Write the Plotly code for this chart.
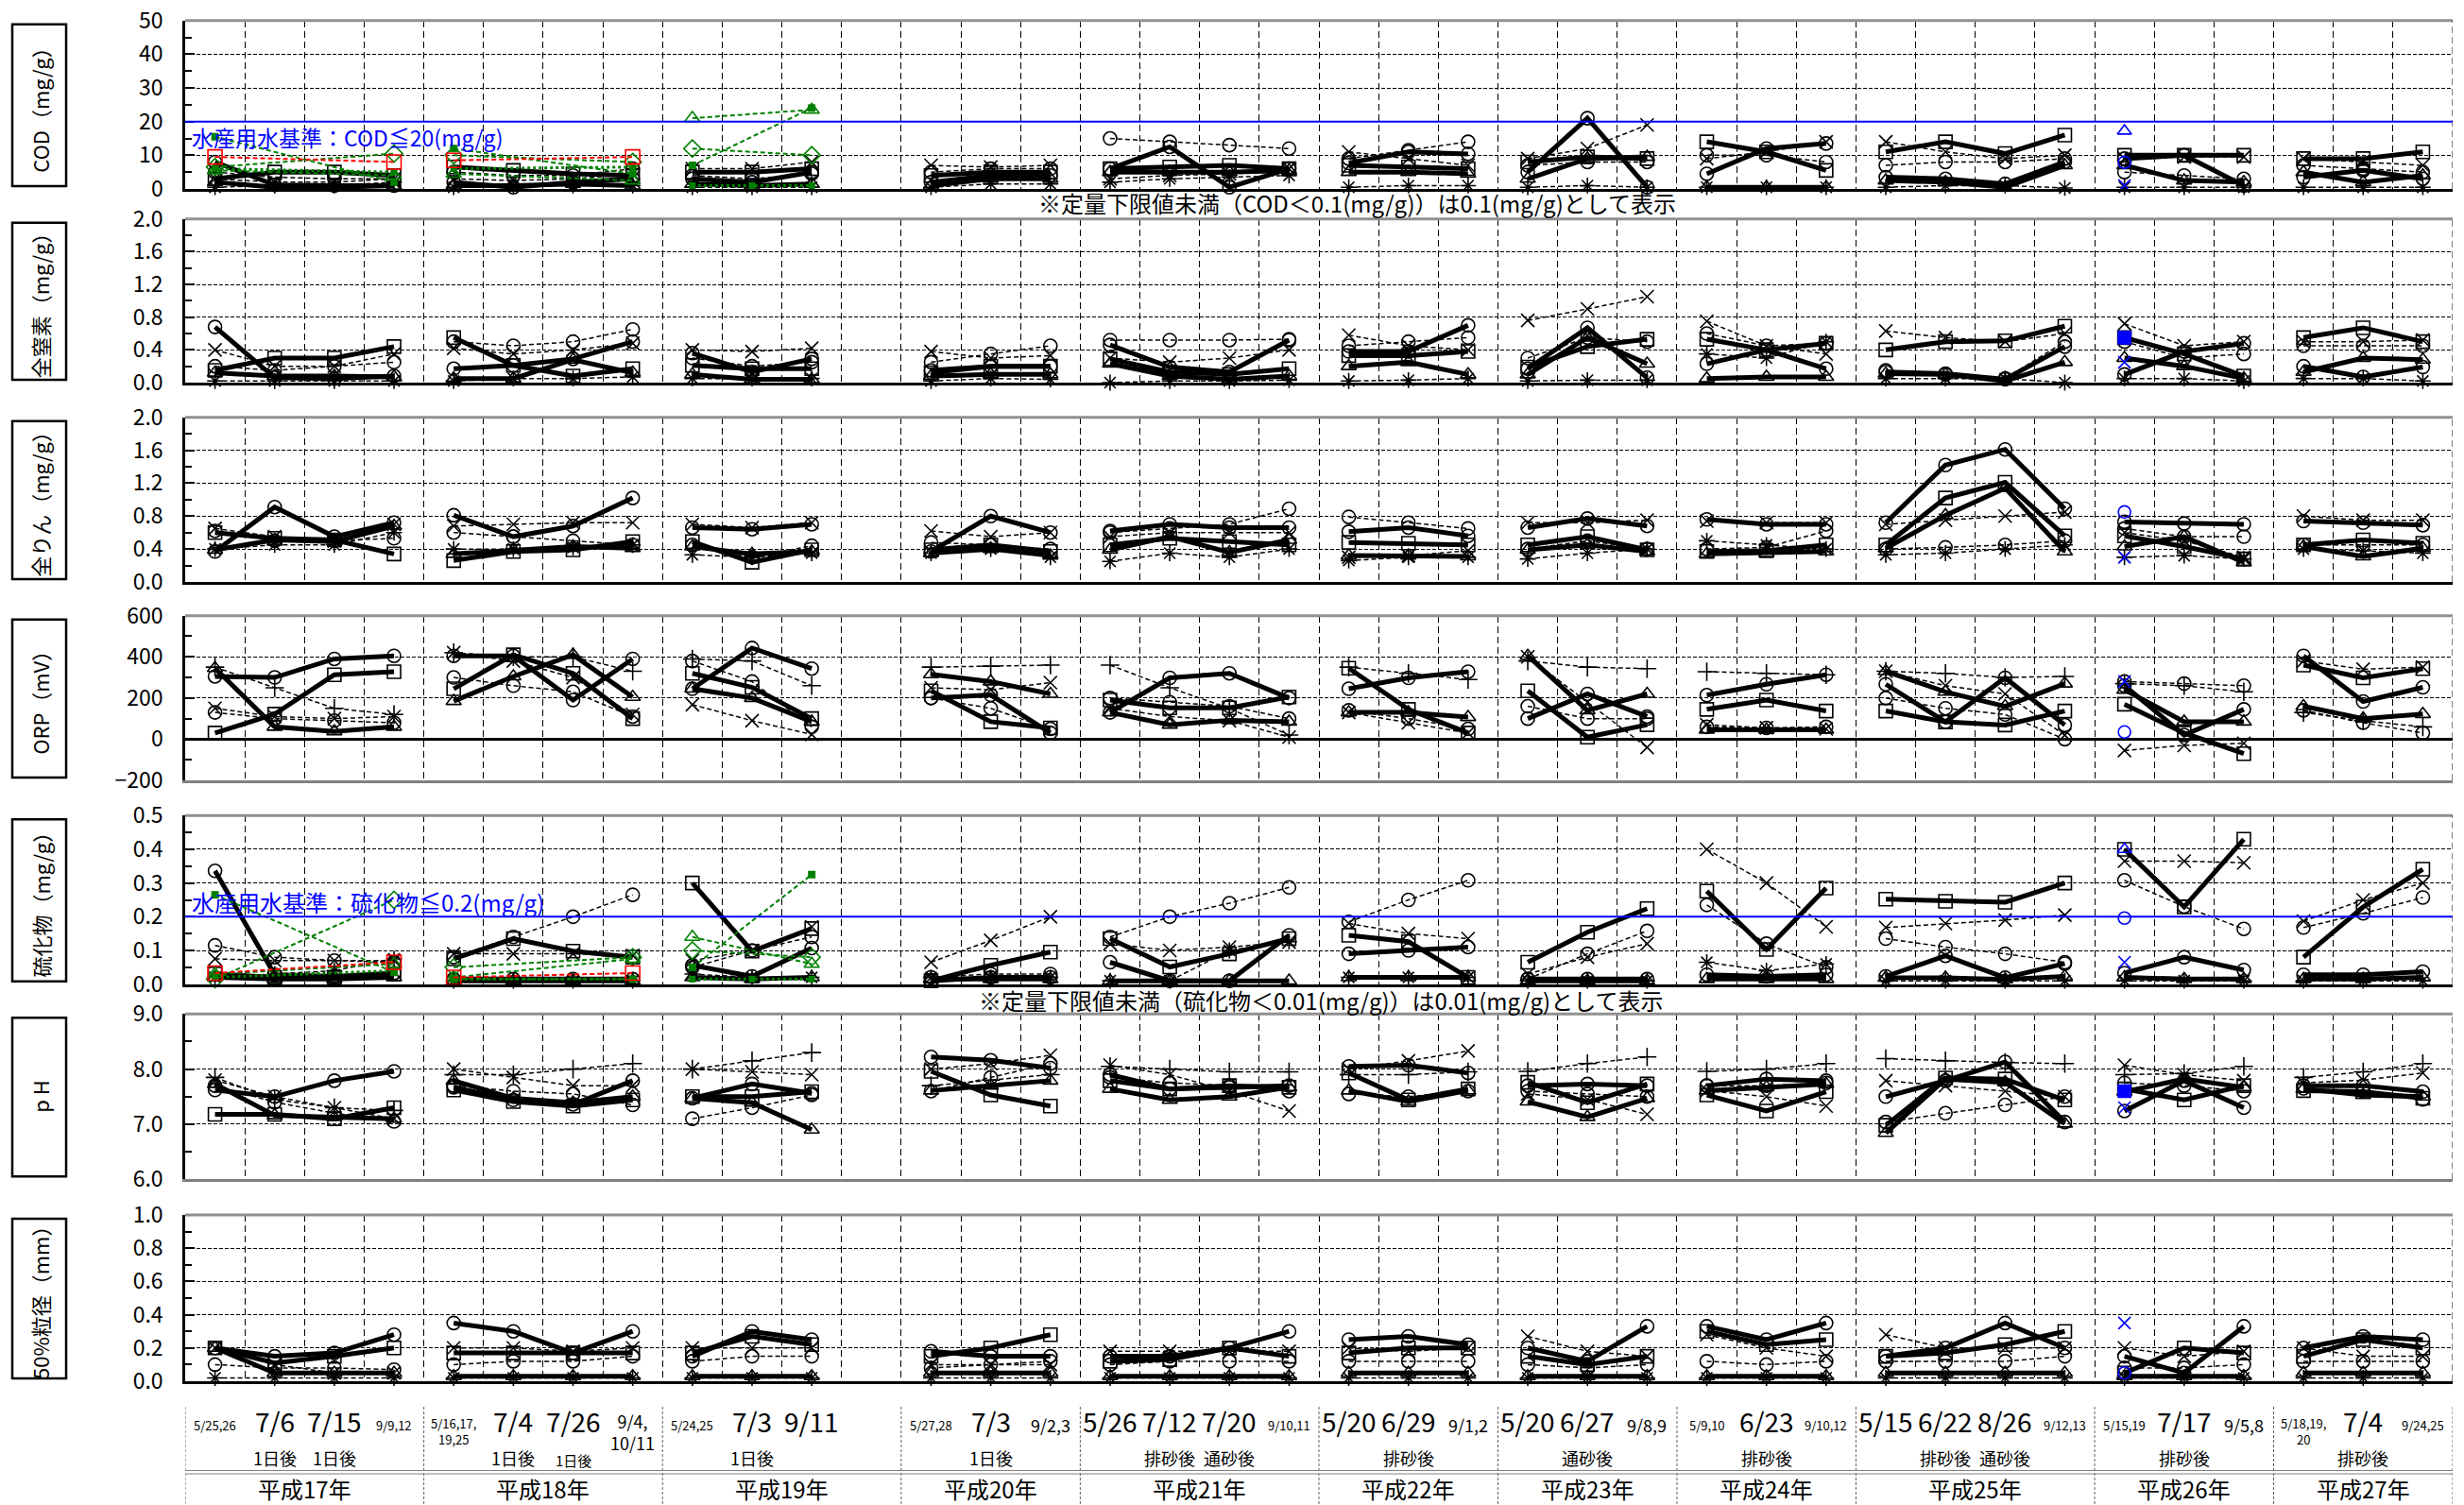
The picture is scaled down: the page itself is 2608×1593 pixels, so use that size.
import plotly.graph_objects as go

W, H = 2608, 1593
PLOT_L, PLOT_R = 196, 2596
N_CELLS = 38

FONT = "Liberation Sans Narrow, Noto Sans CJK JP, sans-serif"

# ---- survey calendar -------------------------------------------------------
YEAR_LABELS = ["平成17年", "平成18年", "平成19年", "平成20年", "平成21年", "平成22年",
               "平成23年", "平成24年", "平成25年", "平成26年", "平成27年"]
YEAR_CELLS = [4, 4, 4, 3, 4, 3, 3, 3, 4, 3, 3]

DATE_LABELS = [
    ["5/25,26", "7/6", "7/15", "9/9,12"],
    ["5/16,17,<br>19,25", "7/4", "7/26", "9/4,<br>10/11"],
    ["5/24,25", "7/3", "9/11"],
    ["5/27,28", "7/3", "9/2,3"],
    ["5/26", "7/12", "7/20", "9/10,11"],
    ["5/20", "6/29", "9/1,2"],
    ["5/20", "6/27", "9/8,9"],
    ["5/9,10", "6/23", "9/10,12"],
    ["5/15", "6/22", "8/26", "9/12,13"],
    ["5/15,19", "7/17", "9/5,8"],
    ["5/18,19,<br>20", "7/4", "9/24,25"],
]
DATE_SIZES = [
    ["S", "L", "L", "S"],
    ["S", "L", "L", "M"],
    ["S", "L", "L"],
    ["S", "L", "M"],
    ["L", "L", "L", "S"],
    ["L", "L", "M"],
    ["L", "L", "M"],
    ["S", "L", "S"],
    ["L", "L", "L", "S"],
    ["S", "L", "M"],
    ["S", "L", "S"],
]
SUB_LABELS = [
    ["", "1日後", "1日後", ""],
    ["", "1日後", "1日後", ""],
    ["", "1日後", ""],
    ["", "1日後", ""],
    ["", "排砂後", "通砂後", ""],
    ["", "排砂後", ""],
    ["", "通砂後", ""],
    ["", "排砂後", ""],
    ["", "排砂後", "通砂後", ""],
    ["", "排砂後", ""],
    ["", "排砂後", ""],
]

# ---- COD (mg/g) ------------------------------------------------------------
COD_B1 = [[8.0, 1.2, 1.0, 1.0], [2.0, 0.5, 2.0, 3.0], [3.0, 2.0, 5.0], [2.0, 4.0, 4.0],
          [6.0, 12.5, 0.5, 6.0], [7.7, 11.0, 10.4], [5.0, 21.0, 0.5], [4.5, 12.0, 13.5],
          [3.5, 3.0, 1.5, 8.0], [9.0, 10.0, 1.0], [3.5, 5.5, 3.0]]
COD_B2 = [[3.0, 5.0, 5.0, 4.0], [6.5, 5.5, 4.5, 4.0], [5.0, 5.0, 6.0], [4.0, 5.0, 5.0],
          [6.0, 6.5, 7.0, 6.0], [7.0, 6.5, 6.0], [8.0, 9.5, 9.0], [14.0, 11.0, 5.5],
          [11.0, 14.0, 10.5, 16.0], [10.0, 10.0, 10.0], [9.0, 9.0, 11.0]]
COD_B3 = [[2.0, 0.5, 0.5, 1.0], [1.0, 1.0, 1.5, 1.0], [1.5, 1.0, 1.5], [1.0, 3.0, 3.0],
          [5.0, 5.0, 5.0, 5.5], [5.0, 5.0, 4.5], [3.0, 9.0, 9.5], [0.5, 0.5, 0.5],
          [2.5, 2.0, 0.5, 7.0], [7.0, 2.5, 2.0], [5.0, 2.0, 4.0]]
COD_D1 = [[3.0, 2.0, 2.0, 3.0], [3.0, 2.5, 3.0, 4.5], [6.0, 6.0, 8.0], [7.0, 6.5, 7.0],
          [3.0, 4.0, 4.5, 6.0], [11.0, 9.0, 7.0], [9.0, 12.0, 19.0], [9.0, 11.0, 14.0],
          [14.0, 11.0, 9.0, 10.0], [9.0, 9.5, 9.5], [9.0, 8.0, 7.0]]
COD_D2 = [[5.0, 3.5, 3.0, 3.0], [5.0, 4.0, 4.0, 6.0], [4.0, 3.0, 4.5], [5.0, 6.0, 6.0],
          [15.0, 14.0, 13.0, 12.0], [9.0, 11.5, 14.0], [7.0, 8.0, 8.0], [10.0, 10.0, 8.0],
          [7.0, 8.0, 8.0, 9.0], [5.0, 4.0, 3.0], [7.0, 6.0, 5.0]]
COD_D3 = [[0.5, 1.0, 1.0, 2.0], [0.5, 1.0, 1.0, 1.0], [0.5, 0.5, 0.5], [0.5, 1.5, 1.5],
          [2.0, 3.0, 3.5, 4.0], [0.5, 1.0, 1.0], [0.5, 1.0, 0.5], [0.5, 0.5, 0.5],
          [0.5, 1.0, 1.0, 0.3], [0.5, 0.5, 0.5], [0.5, 0.5, 0.5]]
COD_GREEN_SQ = [[15.5, None, None, 2.0], [12.0, None, None, 4.5], [7.0, None, 24.0]]
COD_GREEN_DIA = [[6.5, None, None, 10.5], [10.0, None, None, 8.0], [12.0, None, 10.0]]
COD_GREEN_TRI = [[5.5, None, None, 4.0], [4.5, None, None, 2.5], [21.0, None, 23.5]]
COD_GREEN_LOW = [[6.0, None, None, 5.0], [6.0, None, None, 6.5], [1.0, 1.0, 1.0]]
COD_RED = [[9.5, None, None, 8.0], [8.5, None, None, 9.5]]
COD_BLUE = [17.2, 7.9, None, 1.0]

# ---- 全窒素 (mg/g) -----------------------------------------------------------
TN_B1 = [[0.68, 0.06, 0.05, 0.08], [0.17, 0.21, 0.29, 0.50], [0.36, 0.13, 0.29], [0.15, 0.20, 0.20],
         [0.46, 0.19, 0.13, 0.52], [0.38, 0.38, 0.70], [0.17, 0.67, 0.06], [0.23, 0.40, 0.17],
         [0.13, 0.11, 0.04, 0.44], [0.10, 0.38, 0.48], [0.20, 0.07, 0.19]]
TN_B2 = [[0.15, 0.30, 0.30, 0.44], [0.55, 0.21, 0.08, 0.17], [0.21, 0.17, 0.17], [0.12, 0.20, 0.20],
         [0.29, 0.13, 0.10, 0.17], [0.33, 0.33, 0.38], [0.19, 0.44, 0.53], [0.53, 0.40, 0.48],
         [0.40, 0.50, 0.51, 0.69], [0.55, 0.35, 0.08], [0.55, 0.67, 0.50]]
TN_B3 = [[0.12, 0.08, 0.08, 0.07], [0.05, 0.05, 0.28, 0.12], [0.10, 0.04, 0.04], [0.08, 0.10, 0.10],
         [0.23, 0.08, 0.04, 0.08], [0.20, 0.25, 0.10], [0.10, 0.55, 0.23], [0.05, 0.07, 0.07],
         [0.11, 0.10, 0.02, 0.25], [0.30, 0.20, 0.05], [0.13, 0.30, 0.28]]
TN_D1 = [[0.40, 0.20, 0.20, 0.35], [0.42, 0.35, 0.40, 0.48], [0.40, 0.38, 0.42], [0.38, 0.30, 0.33],
         [0.30, 0.25, 0.30, 0.40], [0.58, 0.45, 0.40], [0.76, 0.90, 1.05], [0.75, 0.45, 0.35],
         [0.63, 0.55, 0.50, 0.60], [0.72, 0.45, 0.50], [0.50, 0.50, 0.52]]
TN_D2 = [[0.20, 0.15, 0.20, 0.25], [0.50, 0.45, 0.50, 0.65], [0.30, 0.20, 0.25], [0.25, 0.35, 0.45],
         [0.52, 0.52, 0.52, 0.53], [0.45, 0.50, 0.55], [0.30, 0.55, 0.50], [0.60, 0.45, 0.48],
         [0.15, 0.10, 0.05, 0.50], [0.50, 0.30, 0.35], [0.45, 0.45, 0.45]]
TN_D3 = [[0.02, 0.02, 0.02, 0.02], [0.02, 0.05, 0.05, 0.07], [0.05, 0.05, 0.05], [0.02, 0.05, 0.04],
         [0.00, 0.02, 0.02, 0.03], [0.02, 0.03, 0.05], [0.02, 0.03, 0.03], [0.35, 0.30, 0.50],
         [0.05, 0.05, 0.05, 0.00], [0.05, 0.05, 0.02], [0.05, 0.05, 0.02]]
TN_BLUE = [None, None, 0.55, 0.25]

# ---- 全りん (mg/g) -----------------------------------------------------------
TP_B1 = [[0.37, 0.91, 0.55, 0.72], [0.81, 0.55, 0.68, 1.02], [0.66, 0.64, 0.70], [0.37, 0.80, 0.60],
         [0.62, 0.70, 0.66, 0.66], [0.61, 0.66, 0.56], [0.66, 0.77, 0.68], [0.76, 0.70, 0.70],
         [0.72, 1.42, 1.61, 0.89], [0.73, 0.71, 0.70], [0.74, 0.72, 0.69]]
TP_B2 = [[0.60, 0.53, 0.51, 0.34], [0.26, 0.37, 0.39, 0.49], [0.49, 0.24, 0.39], [0.39, 0.45, 0.37],
         [0.45, 0.53, 0.49, 0.45], [0.48, 0.47, 0.45], [0.45, 0.55, 0.39], [0.37, 0.38, 0.45],
         [0.45, 1.02, 1.21, 0.56], [0.56, 0.43, 0.28], [0.45, 0.51, 0.47]]
TP_B3 = [[0.39, 0.51, 0.49, 0.68], [0.34, 0.39, 0.43, 0.41], [0.43, 0.34, 0.37], [0.35, 0.40, 0.32],
         [0.39, 0.55, 0.36, 0.51], [0.32, 0.32, 0.31], [0.39, 0.45, 0.37], [0.34, 0.35, 0.37],
         [0.41, 0.81, 1.14, 0.37], [0.43, 0.55, 0.24], [0.43, 0.31, 0.41]]
TP_D1 = [[0.65, 0.55, 0.50, 0.70], [0.68, 0.70, 0.72, 0.72], [0.70, 0.66, 0.72], [0.62, 0.55, 0.60],
         [0.55, 0.60, 0.60, 0.60], [0.30, 0.32, 0.38], [0.72, 0.72, 0.75], [0.74, 0.72, 0.72],
         [0.70, 0.75, 0.80, 0.85], [0.60, 0.50, 0.30], [0.80, 0.75, 0.75]]
TP_D2 = [[0.62, 0.50, 0.50, 0.53], [0.60, 0.55, 0.50, 0.45], [0.45, 0.30, 0.44], [0.48, 0.45, 0.40],
         [0.60, 0.65, 0.70, 0.89], [0.79, 0.72, 0.65], [0.40, 0.50, 0.40], [0.40, 0.42, 0.62],
         [0.40, 0.42, 0.45, 0.50], [0.65, 0.55, 0.55], [0.45, 0.45, 0.45]]
TP_D3 = [[0.40, 0.45, 0.45, 0.60], [0.40, 0.40, 0.42, 0.45], [0.33, 0.30, 0.35], [0.35, 0.40, 0.30],
         [0.25, 0.35, 0.30, 0.40], [0.26, 0.30, 0.30], [0.28, 0.35, 0.40], [0.50, 0.45, 0.40],
         [0.33, 0.35, 0.40, 0.45], [0.30, 0.32, 0.28], [0.40, 0.38, 0.35]]
TP_BLUE = [None, 0.85, None, 0.30]

# ---- ORP (mV) --------------------------------------------------------------
ORP_B1 = [[305, 300, 390, 405], [405, 405, 190, 390], [245, 443, 343], [200, 215, 30],
          [130, 298, 320, 200], [245, 298, 328], [100, 220, 110], [214, 267, 313],
          [267, 84, 298, 69], [260, 20, 145], [405, 183, 252]]
ORP_B2 = [[30, 122, 313, 328], [245, 410, 320, 100], [320, 252, 100], [235, 85, 55],
          [190, 152, 152, 205], [345, 145, 30], [235, 10, 70], [145, 190, 137],
          [137, 84, 69, 137], [170, 30, -70], [360, 298, 343]]
ORP_B3 = [[345, 60, 38, 60], [185, 305, 410, 205], [245, 200, 85], [315, 280, 220],
          [130, 70, 92, 85], [130, 130, 107], [405, 140, 220], [46, 46, 46],
          [330, 230, 160, 270], [240, 85, 85], [160, 100, 122]]
ORP_D1 = [[150, 110, 100, 110], [420, 380, 300, 120], [168, 90, 23], [250, 240, 275],
          [150, 110, 90, 10], [130, 80, 30], [400, 180, -40], [70, 55, 50],
          [330, 260, 220, 20], [-55, -30, -20], [380, 340, 350]]
ORP_D2 = [[130, 100, 90, 80], [300, 260, 230, 110], [380, 280, 60], [200, 150, 50],
          [200, 180, 160, 100], [140, 100, 50], [160, 100, 100], [60, 55, 60],
          [200, 150, 120, 0], [280, 270, 260], [140, 80, 30]]
ORP_D3 = [[350, 250, 150, 120], [420, 400, 400, 330], [390, 380, 260], [350, 355, 360],
          [360, 250, 150, 20], [350, 320, 290], [380, 350, 343], [328, 320, 313],
          [330, 320, 300, 305], [270, 260, 230], [130, 90, 60]]
ORP_BLUE = [None, 35, None, 280]

# ---- 硫化物 (mg/g) -----------------------------------------------------------
S_B1 = [[0.336, 0.028, 0.023, 0.033], [0.015, 0.015, 0.015, 0.015], [0.056, 0.023, 0.107],
        [0.010, 0.020, 0.020], [0.065, 0.010, 0.010, 0.145], [0.090, 0.100, 0.110],
        [0.015, 0.015, 0.015], [0.028, 0.023, 0.028], [0.023, 0.084, 0.019, 0.061],
        [0.033, 0.080, 0.042], [0.028, 0.028, 0.037]]
S_B2 = [[0.030, 0.020, 0.020, 0.030], [0.075, 0.135, 0.098, 0.080], [0.300, 0.098, 0.165],
        [0.010, 0.056, 0.095], [0.135, 0.051, 0.090, 0.135], [0.145, 0.126, 0.020],
        [0.065, 0.154, 0.224], [0.276, 0.103, 0.285], [0.252, 0.246, 0.243, 0.300],
        [0.400, 0.229, 0.430], [0.080, 0.229, 0.341]]
S_B3 = [[0.020, 0.015, 0.015, 0.020], [0.010, 0.010, 0.010, 0.010], [0.020, 0.015, 0.020],
        [0.015, 0.015, 0.015], [0.010, 0.010, 0.010, 0.010], [0.020, 0.020, 0.020],
        [0.010, 0.010, 0.010], [0.015, 0.015, 0.015], [0.019, 0.019, 0.014, 0.023],
        [0.020, 0.015, 0.015], [0.015, 0.015, 0.020]]
S_D1 = [[0.075, 0.070, 0.070, 0.070], [0.090, 0.090, 0.090, 0.085], [0.070, 0.100, 0.170],
        [0.065, 0.130, 0.200], [0.120, 0.100, 0.110, 0.125], [0.180, 0.150, 0.135],
        [0.030, 0.080, 0.120], [0.400, 0.300, 0.170], [0.168, 0.180, 0.190, 0.205],
        [0.365, 0.365, 0.360], [0.187, 0.250, 0.300]]
S_D2 = [[0.115, 0.080, 0.070, 0.065], [0.080, 0.140, 0.200, 0.265], [0.050, 0.100, 0.140],
        [0.020, 0.030, 0.030], [0.140, 0.200, 0.240, 0.287], [0.185, 0.250, 0.308],
        [0.015, 0.090, 0.158], [0.235, 0.120, 0.050], [0.135, 0.110, 0.090, 0.065],
        [0.308, 0.230, 0.164], [0.168, 0.210, 0.257]]
S_D3 = [[0.020, 0.030, 0.040, 0.075], [0.010, 0.010, 0.010, 0.010], [0.030, 0.020, 0.020],
        [0.020, 0.020, 0.020], [0.010, 0.010, 0.100, 0.126], [0.020, 0.020, 0.020],
        [0.010, 0.010, 0.010], [0.065, 0.040, 0.060], [0.010, 0.010, 0.010, 0.010],
        [0.010, 0.010, 0.010], [0.010, 0.010, 0.010]]
S_GREEN_SQ = [[0.265, None, None, 0.035], [0.015, None, None, 0.015], [0.050, None, 0.325]]
S_GREEN_DIA = [[0.015, None, None, 0.250], [0.050, None, None, 0.080], [0.100, None, 0.080]]
S_GREEN_TRI = [[0.030, None, None, 0.060], [0.020, None, None, 0.075], [0.140, None, 0.060]]
S_GREEN_LOW = [[0.020, None, None, 0.040], [0.015, None, None, 0.015], [0.015, 0.015, 0.015]]
S_RED = [[0.033, None, None, 0.065], [0.020, None, None, 0.033]]
S_BLUE = [0.40, 0.196, None, 0.065]

# ---- pH --------------------------------------------------------------------
PH_B1 = [[7.62, 7.50, 7.79, 7.96], [7.67, 7.44, 7.36, 7.79], [7.47, 7.73, 7.56], [8.22, 8.16, 8.02],
         [7.90, 7.64, 7.67, 7.70], [8.05, 8.07, 7.93], [7.70, 7.73, 7.70], [7.70, 7.82, 7.79],
         [7.50, 7.79, 8.13, 7.04], [7.24, 7.79, 7.30], [7.70, 7.70, 7.59]]
PH_B2 = [[7.18, 7.18, 7.10, 7.30], [7.62, 7.41, 7.33, 7.44], [7.50, 7.50, 7.59], [7.96, 7.53, 7.33],
         [7.79, 7.64, 7.70, 7.67], [7.93, 7.44, 7.64], [7.76, 7.39, 7.73], [7.53, 7.24, 7.59],
         [6.98, 7.84, 7.82, 7.44], [7.64, 7.44, 7.70], [7.61, 7.59, 7.47]]
PH_B3 = [[7.73, 7.16, 7.13, 7.10], [7.79, 7.47, 7.39, 7.50], [7.47, 7.39, 6.90], [7.61, 7.70, 7.79],
         [7.64, 7.44, 7.50, 7.67], [7.61, 7.41, 7.61], [7.41, 7.13, 7.47], [7.61, 7.67, 7.73],
         [6.84, 7.82, 7.76, 7.01], [7.59, 7.82, 7.67], [7.64, 7.53, 7.50]]
PH_D1 = [[7.80, 7.50, 7.30, 7.10], [8.00, 7.85, 7.70, 7.70], [8.00, 7.95, 7.90], [8.00, 8.10, 8.25],
         [8.07, 7.90, 7.60, 7.24], [8.00, 8.15, 8.33], [7.55, 7.45, 7.18], [7.61, 7.50, 7.33],
         [7.79, 7.70, 7.60, 7.50], [8.07, 7.90, 7.79], [7.75, 7.80, 7.93]]
PH_D2 = [[7.70, 7.40, 7.20, 7.05], [7.70, 7.60, 7.55, 7.35], [7.10, 7.30, 7.53], [7.60, 7.85, 8.10],
         [7.85, 7.75, 7.70, 7.60], [7.55, 7.50, 7.60], [7.60, 7.55, 7.50], [7.70, 7.70, 7.75],
         [7.04, 7.20, 7.35, 7.50], [7.75, 7.70, 7.60], [7.65, 7.60, 7.45]]
PH_D3 = [[7.85, 7.45, 7.30, 7.25], [7.90, 7.90, 8.00, 8.10], [8.00, 8.15, 8.30], [7.70, 7.80, 7.90],
         [8.05, 8.00, 7.95, 7.95], [7.90, 7.90, 7.95], [7.96, 8.10, 8.22], [7.96, 8.00, 8.10],
         [8.19, 8.15, 8.12, 8.10], [7.90, 7.92, 8.05], [7.85, 7.95, 8.10]]
PH_BLUE = [None, None, 7.60, 7.30]

# ---- 50%粒径 (mm) ------------------------------------------------------------
D50_B1 = [[0.20, 0.15, 0.17, 0.28], [0.35, 0.30, 0.17, 0.30], [0.15, 0.30, 0.25], [0.18, 0.15, 0.15],
          [0.15, 0.15, 0.20, 0.30], [0.25, 0.27, 0.22], [0.20, 0.12, 0.33], [0.33, 0.25, 0.35],
          [0.15, 0.20, 0.35, 0.20], [0.15, 0.05, 0.33], [0.20, 0.27, 0.25]]
D50_B2 = [[0.20, 0.11, 0.15, 0.20], [0.17, 0.17, 0.17, 0.17], [0.17, 0.27, 0.22], [0.15, 0.20, 0.28],
          [0.12, 0.13, 0.20, 0.15], [0.17, 0.20, 0.20], [0.15, 0.10, 0.15], [0.30, 0.22, 0.25],
          [0.15, 0.17, 0.22, 0.30], [0.05, 0.20, 0.17], [0.15, 0.25, 0.20]]
D50_B3 = [[0.20, 0.05, 0.05, 0.05], [0.03, 0.03, 0.03, 0.03], [0.03, 0.03, 0.03], [0.05, 0.05, 0.05],
          [0.03, 0.03, 0.03, 0.03], [0.05, 0.05, 0.05], [0.03, 0.03, 0.03], [0.03, 0.03, 0.03],
          [0.05, 0.05, 0.05, 0.05], [0.03, 0.03, 0.03], [0.05, 0.05, 0.05]]
D50_D1 = [[0.20, 0.10, 0.05, 0.05], [0.20, 0.20, 0.18, 0.20], [0.20, 0.20, 0.20], [0.10, 0.10, 0.10],
          [0.18, 0.18, 0.18, 0.18], [0.20, 0.18, 0.20], [0.27, 0.18, 0.15], [0.28, 0.20, 0.15],
          [0.28, 0.20, 0.20, 0.20], [0.20, 0.15, 0.18], [0.20, 0.15, 0.15]]
D50_D2 = [[0.10, 0.08, 0.08, 0.07], [0.10, 0.12, 0.12, 0.15], [0.12, 0.15, 0.15], [0.08, 0.10, 0.12],
          [0.10, 0.12, 0.12, 0.12], [0.12, 0.12, 0.12], [0.10, 0.08, 0.10], [0.12, 0.10, 0.12],
          [0.12, 0.12, 0.12, 0.15], [0.08, 0.08, 0.10], [0.12, 0.12, 0.12]]
D50_D3 = [[0.02, 0.02, 0.02, 0.02], [0.02, 0.02, 0.02, 0.02], [0.02, 0.02, 0.02], [0.02, 0.02, 0.02],
          [0.02, 0.02, 0.02, 0.02], [0.02, 0.02, 0.02], [0.02, 0.02, 0.02], [0.02, 0.02, 0.02],
          [0.02, 0.02, 0.02, 0.02], [0.02, 0.02, 0.02], [0.02, 0.02, 0.02]]
D50_BLUE = [None, 0.05, None, 0.35]

# ---- panel definitions -----------------------------------------------------
PANEL_TITLES = ["COD（mg/g）", "全窒素（mg/g）", "全りん（mg/g）", "ORP（mV）",
                "硫化物（mg/g）", "p H", "50%粒径（mm）"]
PANEL_RANGES = [(0, 50), (0, 2.0), (0, 2.0), (-200, 600), (0, 0.5), (6.0, 9.0), (0, 1.0)]
PANEL_DTICK = [10, 0.4, 0.4, 200, 0.1, 1.0, 0.2]
PANEL_MINOR = [5, 0.2, 0.2, 100, 0.05, 0.5, 0.1]
PANEL_FORMAT = ["d", ".1f", ".1f", "d", ".1f", ".1f", ".1f"]
PANEL_TOP_PX = [21.7, 231.7, 441.7, 651.7, 863.3, 1073.3, 1286.0]
PANEL_BOT_PX = [200.0, 405.0, 616.0, 826.0, 1041.7, 1248.3, 1462.0]

panels = [
    (COD_B1, COD_B2, COD_B3, COD_D1, COD_D2, COD_D3, "asterisk-open", COD_BLUE),
    (TN_B1, TN_B2, TN_B3, TN_D1, TN_D2, TN_D3, "asterisk-open", TN_BLUE),
    (TP_B1, TP_B2, TP_B3, TP_D1, TP_D2, TP_D3, "asterisk-open", TP_BLUE),
    (ORP_B1, ORP_B2, ORP_B3, ORP_D1, ORP_D2, ORP_D3, "cross-thin-open", ORP_BLUE),
    (S_B1, S_B2, S_B3, S_D1, S_D2, S_D3, "asterisk-open", S_BLUE),
    (PH_B1, PH_B2, PH_B3, PH_D1, PH_D2, PH_D3, "cross-thin-open", PH_BLUE),
    (D50_B1, D50_B2, D50_B3, D50_D1, D50_D2, D50_D3, "asterisk-open", D50_BLUE),
]

BOLD_SYMBOLS = ["circle-open", "square-open", "triangle-up-open"]
BLUE_SYMBOLS = ["triangle-up-open", "circle-open", "square", "x-thin-open"]

# cell where each year group starts
YEAR_START = []
_s = 0
for n in YEAR_CELLS:
    YEAR_START.append(_s)
    _s += n


def year_xy(groups):
    """Flatten per-year values into x/y with a break between year groups."""
    xs, ys = [], []
    for yi, vals in enumerate(groups):
        for j, v in enumerate(vals):
            if v is not None:
                xs.append(YEAR_START[yi] + j + 0.5)
                ys.append(v)
        xs.append(None)
        ys.append(None)
    return xs, ys


def px_to_paper_y(py):
    return 1 - py / H


def px_to_paper_x(px):
    return (px - PLOT_L) / (PLOT_R - PLOT_L)


fig = go.Figure()


def add_series(i, groups, symbol, color, width, dash, msize=14, filled=False):
    xs, ys = year_xy(groups)
    ax = "" if i == 0 else str(i + 1)
    fig.add_trace(go.Scatter(
        x=xs, y=ys, xaxis="x" + ax, yaxis="y" + ax, mode="lines+markers",
        line=dict(color=color, width=width, dash=dash),
        marker=dict(symbol=symbol, size=msize, color=color,
                    line=dict(color=color, width=1.6 if not filled else 0)),
        showlegend=False, hoverinfo="skip", cliponaxis=False))


DASH = "5px,3px"
for i, (b1, b2, b3, d1, d2, d3, d3sym, blue) in enumerate(panels):
    add_series(i, d1, "x-thin-open", "black", 1.5, DASH)
    add_series(i, d2, "circle-open", "black", 1.5, DASH)
    add_series(i, d3, d3sym, "black", 1.5, DASH)
    for grp, sym in zip((b1, b2, b3), BOLD_SYMBOLS):
        add_series(i, grp, sym, "black", 5, "solid")
    # first-survey markers of 平成26年
    ax = "" if i == 0 else str(i + 1)
    x26 = YEAR_START[9] + 0.5
    for v, sym in zip(blue, BLUE_SYMBOLS):
        if v is None:
            continue
        fig.add_trace(go.Scatter(
            x=[x26], y=[v], xaxis="x" + ax, yaxis="y" + ax, mode="markers",
            marker=dict(symbol=sym, size=13, color="blue", line=dict(color="blue", width=1.6)),
            showlegend=False, hoverinfo="skip", cliponaxis=False))

# coloured stations (平成17〜19年) for COD and sulfide
GREEN = "#008000"
for i, (gsq, gdia, gtri, glow, red) in [
        (0, (COD_GREEN_SQ, COD_GREEN_DIA, COD_GREEN_TRI, COD_GREEN_LOW, COD_RED)),
        (4, (S_GREEN_SQ, S_GREEN_DIA, S_GREEN_TRI, S_GREEN_LOW, S_RED))]:
    add_series(i, glow, "square", GREEN, 3, "3px,3px", msize=7, filled=True)
    add_series(i, gsq, "square", GREEN, 2, "5px,3px", msize=8, filled=True)
    add_series(i, gdia, "diamond-open", GREEN, 2, "5px,3px")
    add_series(i, gtri, "triangle-up-open", GREEN, 2, "5px,3px")
    add_series(i, red, "square-open", "red", 2, "5px,3px", msize=15)

# ---- axes ------------------------------------------------------------------
layout = dict(
    width=W, height=H,
    margin=dict(l=PLOT_L, r=W - PLOT_R, t=0, b=0, autoexpand=False),
    plot_bgcolor="white", paper_bgcolor="white",
    font=dict(family=FONT, color="black"),
    showlegend=False,
)
shapes = []
annotations = []


def note(**kw):
    kw.setdefault("showarrow", False)
    kw.setdefault("xanchor", "center")
    kw.setdefault("yanchor", "middle")
    annotations.append(kw)


for i in range(7):
    ax = "" if i == 0 else str(i + 1)
    top, bot = PANEL_TOP_PX[i], PANEL_BOT_PX[i]
    lo, hi = PANEL_RANGES[i]
    bottom_color = "#808080" if i in (3, 5) else "black"
    layout["xaxis" + ax] = dict(
        domain=[0, 1], anchor="y" + ax, range=[0, N_CELLS],
        showticklabels=False, ticks="", tick0=0, dtick=1,
        showgrid=True, gridcolor="black", gridwidth=1, griddash="7px,4px",
        showline=True, linecolor=bottom_color, linewidth=2.5, zeroline=False)
    layout["yaxis" + ax] = dict(
        domain=[px_to_paper_y(bot), px_to_paper_y(top)], anchor="x" + ax,
        range=[lo, hi], tick0=lo, dtick=PANEL_DTICK[i], tickformat=PANEL_FORMAT[i],
        ticks="inside", ticklen=10, tickwidth=1.5, tickcolor="black",
        minor=dict(dtick=PANEL_MINOR[i], tick0=lo, ticks="inside", ticklen=7,
                   tickcolor="black", tickwidth=1.5, showgrid=False),
        showgrid=True, gridcolor="black", gridwidth=1.2, griddash="4px,2px",
        showline=True, linecolor="black", linewidth=2.5,
        zeroline=(i == 3), zerolinecolor="black", zerolinewidth=2.5,
        tickfont=dict(size=23, family=FONT), ticklabelstandoff=16)

    # grey frame on top and dashed right edge
    shapes.append(dict(type="line", xref="x" + ax + " domain", yref="y" + ax + " domain",
                       x0=0, x1=1, y0=1, y1=1, line=dict(color="#909090", width=3)))
    shapes.append(dict(type="line", xref="x" + ax, yref="y" + ax + " domain",
                       x0=N_CELLS, x1=N_CELLS, y0=0, y1=1,
                       line=dict(color="black", width=1, dash="7px,4px")))

    # boxed axis title
    shapes.append(dict(type="rect", xref="paper", yref="paper",
                       x0=px_to_paper_x(13), x1=px_to_paper_x(70),
                       y0=px_to_paper_y(bot - 3), y1=px_to_paper_y(top + 4),
                       line=dict(color="black", width=2.5), fillcolor="white"))
    note(xref="paper", yref="paper", x=px_to_paper_x(42), y=px_to_paper_y((top + bot) / 2),
         text=PANEL_TITLES[i], textangle=-90, font=dict(size=22, family=FONT))

# water-quality standards
shapes.append(dict(type="line", xref="x domain", yref="y", x0=0, x1=1, y0=20, y1=20,
                   line=dict(color="blue", width=2)))
shapes.append(dict(type="line", xref="x5 domain", yref="y5", x0=0, x1=1, y0=0.2, y1=0.2,
                   line=dict(color="blue", width=2)))
note(xref="x", yref="y", x=0.08, y=15.3, xanchor="left",
     text="水産用水基準：COD≦20(mg/g)", font=dict(size=23, color="blue", family=FONT))
note(xref="x5", yref="y5", x=0.08, y=0.245, xanchor="left",
     text="水産用水基準：硫化物≦0.2(mg/g)", font=dict(size=24, color="blue", family=FONT))
note(xref="paper", yref="paper", x=px_to_paper_x(1097), y=px_to_paper_y(215), xanchor="left",
     text="※定量下限値未満（COD＜0.1(mg/g)）は0.1(mg/g)として表示",
     font=dict(size=24, family=FONT))
note(xref="paper", yref="paper", x=px_to_paper_x(1034), y=px_to_paper_y(1058), xanchor="left",
     text="※定量下限値未満（硫化物＜0.01(mg/g)）は0.01(mg/g)として表示",
     font=dict(size=24, family=FONT))

# ---- date / year table under the charts -----------------------------------
SIZE_MAP = {"L": 28, "M": 18, "S": 13}
for yi, start in enumerate(YEAR_START):
    for j, lab in enumerate(DATE_LABELS[yi]):
        code = DATE_SIZES[yi][j]
        two_line = "<br>" in lab
        ypx = 1504 if code == "L" else (1515 if two_line else 1508)
        note(xref="x7", yref="paper", x=start + j + 0.5, y=px_to_paper_y(ypx), text=lab,
             font=dict(size=SIZE_MAP[code], family=FONT))
        sub = SUB_LABELS[yi][j]
        if sub:
            small = (yi == 1 and j == 2)
            note(xref="x7", yref="paper", x=start + j + 0.5,
                 y=px_to_paper_y(1543 if not small else 1545), text=sub,
                 font=dict(size=15 if small else 18, family=FONT))
    note(xref="x7", yref="paper", x=start + YEAR_CELLS[yi] / 2, y=px_to_paper_y(1575),
         text=YEAR_LABELS[yi], font=dict(size=24, family=FONT))

for b in YEAR_START + [N_CELLS]:
    shapes.append(dict(type="line", xref="x7", yref="paper", x0=b, x1=b,
                       y0=px_to_paper_y(1489), y1=0,
                       line=dict(color="#606060", width=1, dash="3px,2px")))
for ypx in (1556.5, 1560):
    shapes.append(dict(type="line", xref="x7", yref="paper", x0=0, x1=N_CELLS,
                       y0=px_to_paper_y(ypx), y1=px_to_paper_y(ypx),
                       line=dict(color="#808080", width=1)))

layout["shapes"] = shapes
layout["annotations"] = annotations
fig.update_layout(**layout)

fig.write_html("out.html")
